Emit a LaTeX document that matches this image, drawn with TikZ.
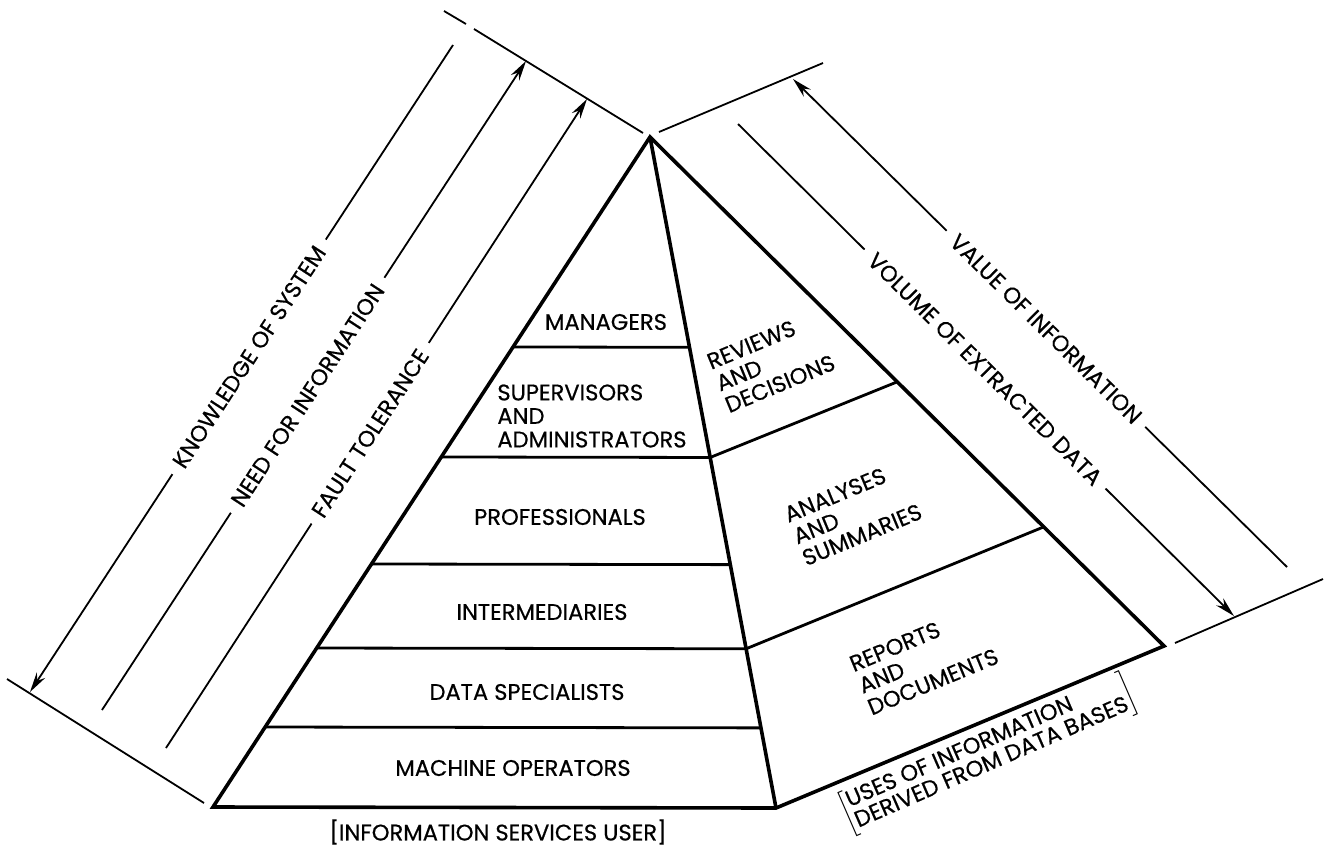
\documentclass[tikz,border=0pt]{standalone}
\usepackage{fontspec}
\setmainfont{Poppins}[FakeBold=0.5]
\usetikzlibrary{calc,arrows.meta}
\begin{document}
\begin{tikzpicture}[x=0.5pt,y=-0.5pt,
  edge/.style={line width=1.8pt, line join=miter},
  tier/.style={line width=1.4pt},
  dim/.style={line width=0.9pt},
  tip/.style={-{Stealth[length=10pt,width=5pt]}},
  txt/.style={font=\fontsize{11.3}{11.75}\selectfont, inner sep=0pt},
  lbl/.style={txt, align=center},
  rlbl/.style={txt, align=left, rotate=22.5},
  dimlbl/.style={txt, fill=white, sloped, inner xsep=5pt, inner ysep=2pt}
]
\useasboundingbox (0,0) rectangle (1327,846);

% pyramid corners
\coordinate (A)  at (650,137);
\coordinate (BL) at (213,807);
\coordinate (BM) at (776,808);
\coordinate (BR) at (1164,646);

% outline and middle edge
\draw[edge] (BL) -- (A) -- (BR) -- (BM) -- cycle;
\draw[edge] (A) -- (BM);

% tiers of users (left face)
\foreach \t/\n in {0.3134/1,0.4776/2,0.6373/3,0.7627/4,0.8806/5}
  \draw[tier] ($(A)!\t!(BL)$) coordinate (l\n) -- ($(A)!\t!(BM)$) coordinate (c\n);

% uses of information (right face)
\coordinate (r2) at ($(A)!0.481!(BR)$);
\coordinate (r4) at ($(A)!0.766!(BR)$);
\draw[tier] (c2) -- (r2);
\draw[tier] (c4) -- (r4);

% boundary lines of the dimension arrows
\coordinate (tla) at (444,11);  \coordinate (tlb) at (466,24);
\coordinate (tlc) at (474,29);  \coordinate (tld) at (643,133);
\draw[dim] (tla) -- (tlb);
\draw[dim] (tlc) -- (tld);
\coordinate (bla) at (7,679);   \coordinate (blb) at (204,803);
\draw[dim] (bla) -- (blb);
\coordinate (tra) at (659,132); \coordinate (trb) at (823,63);
\draw[dim] (tra) -- (trb);
\coordinate (bra) at (1175,643); \coordinate (brb) at (1323,579);
\draw[dim] (bra) -- (brb);

% left dimension arrows
\coordinate (k1) at (453,45);  \coordinate (k2) at (30,692);
\draw[dim,tip] (k1) -- node[dimlbl,pos=0.482] (ks) {KNOWLEDGE OF SYSTEM} (k2);
\coordinate (n1) at (526,61);  \coordinate (n2) at (102,710);
\draw[dim,tip] (n2) -- node[dimlbl,pos=0.485] (nf) {NEED FOR INFORMATION} (n1);
\coordinate (f1) at (587,99);  \coordinate (f2) at (166,748);
\draw[dim,tip] (f2) -- node[dimlbl,pos=0.485] (ft) {FAULT TOLERANCE} (f1);

% right dimension arrows
\coordinate (v1) at (793,79);  \coordinate (v2) at (1287,567);
\draw[dim,tip] (v2) -- node[dimlbl,pos=0.488] (vi) {VALUE OF INFORMATION} (v1);
\coordinate (w1) at (738,124); \coordinate (w2) at (1234,616);
\draw[dim,tip] (w1) -- node[dimlbl,pos=0.498] (ve) {VOLUME OF EXTRACTED DATA} (w2);

% user labels
\node[lbl] (mgr) at (606,322) {MANAGERS};
\node[txt, align=left, anchor=west] (sup) at (497,416) {SUPERVISORS\\AND\\ADMINISTRATORS};
\node[lbl] (pro) at (560,517) {PROFESSIONALS};
\node[lbl] (itm) at (542,612) {INTERMEDIARIES};
\node[lbl] (dsp) at (527,692) {DATA SPECIALISTS};
\node[lbl] (mop) at (513,768) {MACHINE OPERATORS};
\node[lbl] (isu) at (498,832) {[INFORMATION SERVICES USER]};

% use labels
\node[rlbl] (rev) at (771,362) {REVIEWS\\AND\\DECISIONS};
\node[rlbl] (ana) at (853,513) {ANALYSES\\AND\\SUMMARIES};
\node[rlbl] (rep) at (924,660) {REPORTS\\AND\\DOCUMENTS};
\node[txt, rotate=23.5, font=\fontsize{11.3}{10.5}\selectfont] (uses) at (988,754)
  {$\left[\begin{tabular}{@{}l@{}}USES OF INFORMATION\\DERIVED FROM DATA BASES\end{tabular}\right]$};
\end{tikzpicture}
\end{document}
